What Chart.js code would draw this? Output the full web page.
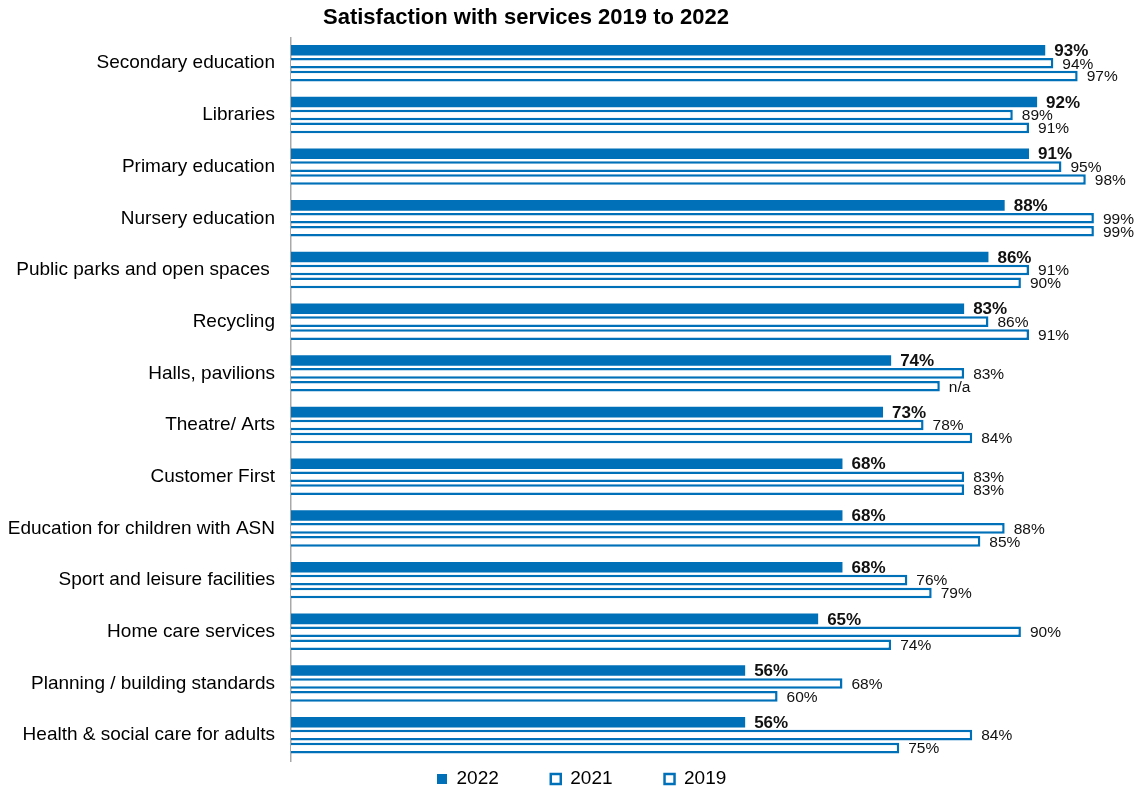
<!DOCTYPE html>
<html>
<head>
<meta charset="utf-8">
<title>Satisfaction with services 2019 to 2022</title>
<script src="https://cdn.jsdelivr.net/npm/chart.js@4.4.1/dist/chart.umd.min.js"></script>
<style>
  html, body { margin: 0; padding: 0; background: #fff; }
  #wrap { width: 1141px; height: 787px; position: relative; }
</style>
</head>
<body>
<div id="wrap"><canvas id="myChart"></canvas></div>
<script>
// services, top to bottom
const categories = [
    "Secondary education",
    "Libraries",
    "Primary education",
    "Nursery education",
    "Public parks and open spaces ",
    "Recycling",
    "Halls, pavilions",
    "Theatre/ Arts",
    "Customer First",
    "Education for children with ASN",
    "Sport and leisure facilities",
    "Home care services",
    "Planning / building standards",
    "Health & social care for adults"
];
const seriesNames = ["2022", "2021", "2019"];
// % satisfied
const sat2022 = [93, 92, 91, 88, 86, 83, 74, 73, 68, 68, 68, 65, 56, 56];
const sat2021 = [94, 89, 95, 99, 91, 86, 83, 78, 83, 88, 76, 90, 68, 84];
const sat2019 = [97, 91, 98, 99, 90, 91, 80, 84, 83, 85, 79, 74, 60, 75];
// 2019 label overrides (no comparable figure for halls that year)
const labelOverrides2019 = { "Halls, pavilions": "n/a" };

const blue = "#0071b8";
const fontFamily = "'Liberation Sans', Arial, sans-serif";

function pctText(values, overrides) {
    return values.map(function (v, i) {
        const o = overrides && overrides[categories[i]];
        return o ? o : v + "%";
    });
}

// prints the value at the end of each bar
const valueLabels = {
    id: "valueLabels",
    afterDatasetsDraw(chart) {
        const ctx = chart.ctx;
        ctx.save();
        ctx.textAlign = "left";
        ctx.textBaseline = "middle";
        ctx.fillStyle = "#111";
        chart.data.datasets.forEach(function (ds, di) {
            const meta = chart.getDatasetMeta(di);
            ctx.font = ds.labelFont;
            meta.data.forEach(function (bar, i) {
                ctx.fillText(ds.valueText[i], bar.x + 9, bar.y + 1);
            });
        });
        ctx.restore();
    }
};

// title sits over the left part, legend sits low and a bit right of centre
const placeBlocks = {
    id: "placeBlocks",
    afterLayout(chart) {
        const t = chart.titleBlock;
        if (t) { t.left = 0; t.right = 1052; }
        const lg = chart.legend;
        if (lg) {
            const pad = lg.options.labels.padding;
            lg.left = 437 - pad;
            lg.top = 779 - pad - 9.5;
        }
    }
};

const ctx = document.getElementById("myChart").getContext("2d");
const myChart = new Chart(ctx, {
    type: "bar",
    data: {
        labels: categories,
        datasets: [{
            label: seriesNames[0],
            data: sat2022,
            valueText: pctText(sat2022),
            labelFont: "bold 17px " + fontFamily,
            backgroundColor: blue,
            borderColor: blue,
            borderWidth: 0
        }, {
            label: seriesNames[1],
            data: sat2021,
            valueText: pctText(sat2021),
            labelFont: "15.5px " + fontFamily,
            backgroundColor: "#ffffff",
            borderColor: blue,
            borderWidth: 2.5
        }, {
            label: seriesNames[2],
            data: sat2019,
            valueText: pctText(sat2019, labelOverrides2019),
            labelFont: "15.5px " + fontFamily,
            backgroundColor: "#ffffff",
            borderColor: blue,
            borderWidth: 2.5
        }]
    },
    options: {
        indexAxis: "y",
        responsive: true,
        maintainAspectRatio: false,
        animation: false,
        categoryPercentage: 0.75,
        barPercentage: 0.82,
        layout: { padding: { left: 0, right: 39, top: 0, bottom: 0 } },
        scales: {
            x: { display: false, min: 0, max: 100 },
            y: {
                grid: { display: false },
                border: { display: true, color: "#a9a9a9", width: 1.5 },
                ticks: {
                    autoSkip: false,
                    padding: 8,
                    color: "#000",
                    font: { family: fontFamily, size: 19 }
                },
                afterFit: function (scale) { scale.width = 291; }
            }
        },
        plugins: {
            title: {
                display: true,
                text: "Satisfaction with services 2019 to 2022",
                color: "#000",
                font: { family: fontFamily, size: 22, weight: "bold" },
                padding: { top: 5, bottom: 6 }
            },
            legend: {
                position: "bottom",
                align: "start",
                maxHeight: 26,
                labels: {
                    boxWidth: 10,
                    boxHeight: 10,
                    padding: 52,
                    color: "#000",
                    font: { family: fontFamily, size: 19 }
                }
            },
            tooltip: { enabled: false }
        }
    },
    plugins: [valueLabels, placeBlocks]
});
</script>
</body>
</html>
